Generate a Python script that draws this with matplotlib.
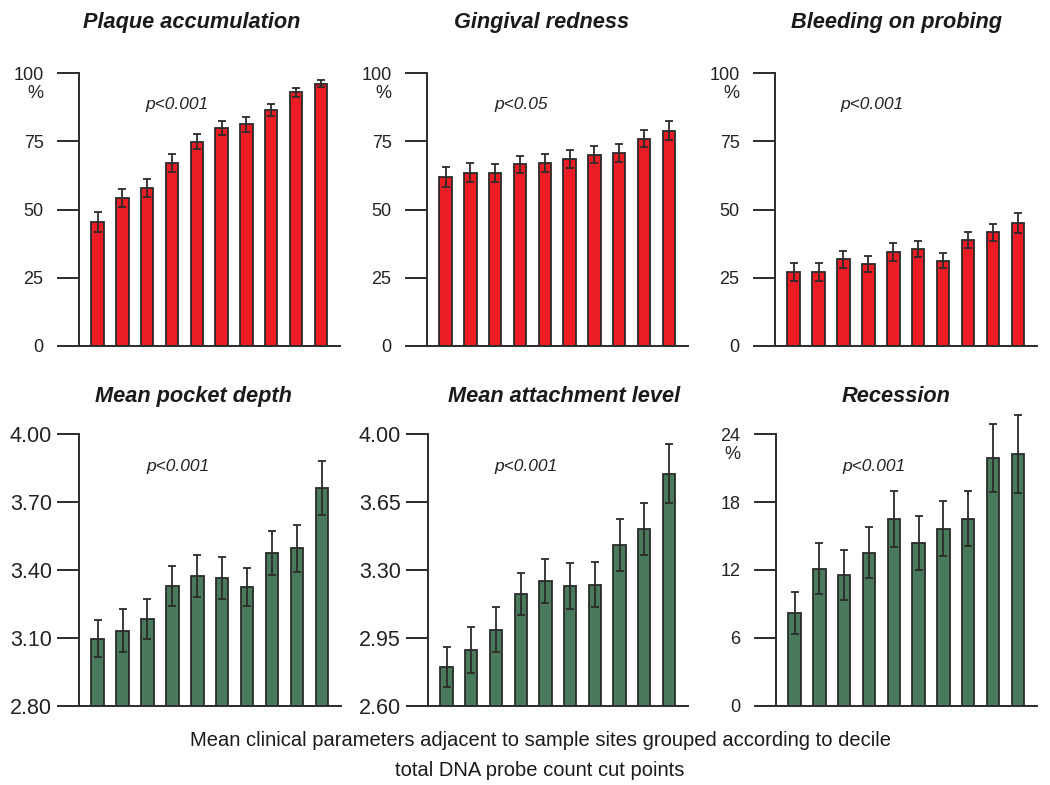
import matplotlib
matplotlib.use("Agg")
import matplotlib.pyplot as plt
import numpy as np

plt.rcParams['font.family'] = ['Liberation Sans', 'DejaVu Sans']

deciles = list(range(1, 11))

titles = ["Plaque accumulation", "Gingival redness", "Bleeding on probing",
          "Mean pocket depth", "Mean attachment level", "Recession"]
p_labels = ["p<0.001", "p<0.05", "p<0.001", "p<0.001", "p<0.001", "p<0.001"]

plaque = [45.3, 54.2, 57.9, 67.0, 74.9, 80.0, 81.2, 86.3, 92.9, 96.1]
plaque_err = [3.7, 3.3, 3.3, 3.2, 2.8, 2.6, 2.7, 2.2, 1.6, 1.3]
redness = [61.8, 63.5, 63.4, 66.5, 67.0, 68.5, 70.1, 70.7, 75.9, 78.9]
redness_err = [3.7, 3.6, 3.3, 3.2, 3.2, 3.2, 3.0, 3.2, 3.1, 3.4]
bleeding = [27.0, 27.0, 31.7, 30.1, 34.5, 35.5, 31.3, 38.8, 41.7, 45.0]
bleeding_err = [3.3, 3.3, 3.2, 3.0, 3.2, 2.9, 2.8, 3.0, 3.1, 3.7]
pocket = [3.096, 3.132, 3.184, 3.328, 3.374, 3.365, 3.325, 3.474, 3.496, 3.763]
pocket_err = [0.082, 0.095, 0.089, 0.089, 0.093, 0.093, 0.086, 0.098, 0.104, 0.120]
attach = [2.801, 2.888, 2.993, 3.178, 3.243, 3.218, 3.225, 3.430, 3.511, 3.796]
attach_err = [0.105, 0.120, 0.116, 0.109, 0.112, 0.120, 0.116, 0.134, 0.135, 0.152]
recession = [8.21, 12.12, 11.56, 13.53, 16.50, 14.38, 15.65, 16.53, 21.88, 22.24]
recession_err = [1.84, 2.27, 2.20, 2.24, 2.50, 2.40, 2.40, 2.44, 2.97, 3.45]

ticks_pct = [0, 25, 50, 75, 100]
ticks_pocket = [2.80, 3.10, 3.40, 3.70, 4.00]
ticks_attach = [2.60, 2.95, 3.30, 3.65, 4.00]
ticks_rec = [0, 6, 12, 18, 24]

RED = "#EC1C24"
GREEN = "#4A7A5C"
DARK = "#2b2b2b"

W, H = 1050, 785
fig = plt.figure(figsize=(W / 100, H / 100), dpi=100)

panels = [
    dict(v=plaque, e=plaque_err, ticks=ticks_pct, fmt="{:d}", color=RED,
         rect=(79, 73, 340, 346), title_x=192, p_x=177, pct=True),
    dict(v=redness, e=redness_err, ticks=ticks_pct, fmt="{:d}", color=RED,
         rect=(427, 73, 688, 346), title_x=542, p_x=521, pct=True),
    dict(v=bleeding, e=bleeding_err, ticks=ticks_pct, fmt="{:d}", color=RED,
         rect=(775, 73, 1037, 346), title_x=896, p_x=872, pct=True),
    dict(v=pocket, e=pocket_err, ticks=ticks_pocket, fmt="{:.2f}", color=GREEN,
         rect=(79, 434, 341, 706), title_x=193, p_x=178, pct=False),
    dict(v=attach, e=attach_err, ticks=ticks_attach, fmt="{:.2f}", color=GREEN,
         rect=(428, 434, 688, 706), title_x=564, p_x=526, pct=False),
    dict(v=recession, e=recession_err, ticks=ticks_rec, fmt="{:d}", color=GREEN,
         rect=(776, 434, 1037, 706), title_x=896, p_x=874, pct=True),
]

x = np.arange(len(deciles))
for i, pnl in enumerate(panels):
    x0, y0, x1, y1 = pnl["rect"]
    ax = fig.add_axes([x0 / W, 1 - y1 / H, (x1 - x0) / W, (y1 - y0) / H])
    ax.bar(x, pnl["v"], width=0.5, color=pnl["color"], edgecolor=DARK,
           linewidth=1.3, zorder=2)
    ax.errorbar(x, pnl["v"], yerr=pnl["e"], fmt="none", ecolor=DARK,
                elinewidth=1.3, capsize=3.0, capthick=1.3, zorder=3, clip_on=False)
    ax.set_xlim(-0.75, 9.77)
    t = pnl["ticks"]
    ax.set_ylim(t[0], t[-1])
    ax.set_yticks(t)
    ax.set_xticks([])
    for s in ["top", "right"]:
        ax.spines[s].set_visible(False)
    for s in ["left", "bottom"]:
        ax.spines[s].set_linewidth(1.4)
        ax.spines[s].set_color(DARK)
    row_top = i < 3
    if i in (3, 4):
        labels = [pnl["fmt"].format(v) for v in t]
        ax.set_yticklabels(labels, fontsize=15.5)
        ax.tick_params(axis="y", length=16, width=1.4, color=DARK, pad=3.5)
    else:
        labels = [pnl["fmt"].format(int(v)) for v in t]
        ax.set_yticklabels(labels, fontsize=13)
        ax.tick_params(axis="y", length=16, width=1.4, color=DARK, pad=9.5)
    for lab in ax.get_yticklabels():
        lab.set_color("#222222")

    base_y = 28 if row_top else 402
    fig.text(pnl["title_x"] / W, 1 - base_y / H, titles[i], fontsize=15.7,
             fontweight="bold", fontstyle="italic", ha="center", va="baseline",
             color="#1a1a1a")
    py = 105 if row_top else 466
    fig.text(pnl["p_x"] / W, 1 - py / H, p_labels[i], fontsize=12.5,
             fontstyle="italic", ha="center", va="center", color="#222222")
    if pnl["pct"]:
        pct_y = 98 if row_top else 459
        fig.text((x0 - 36) / W, 1 - pct_y / H, "%", fontsize=13, ha="right",
                 va="baseline", color="#222222")

fig.text(540 / W, 1 - 741 / H,
         "Mean clinical parameters adjacent to sample sites grouped according to decile",
         fontsize=14.5, ha="center", va="center", color="#1a1a1a")
fig.text(540 / W, 1 - 770 / H, "total DNA probe count cut points",
         fontsize=14.5, ha="center", va="center", color="#1a1a1a")

fig.savefig("out.png", dpi=100)
